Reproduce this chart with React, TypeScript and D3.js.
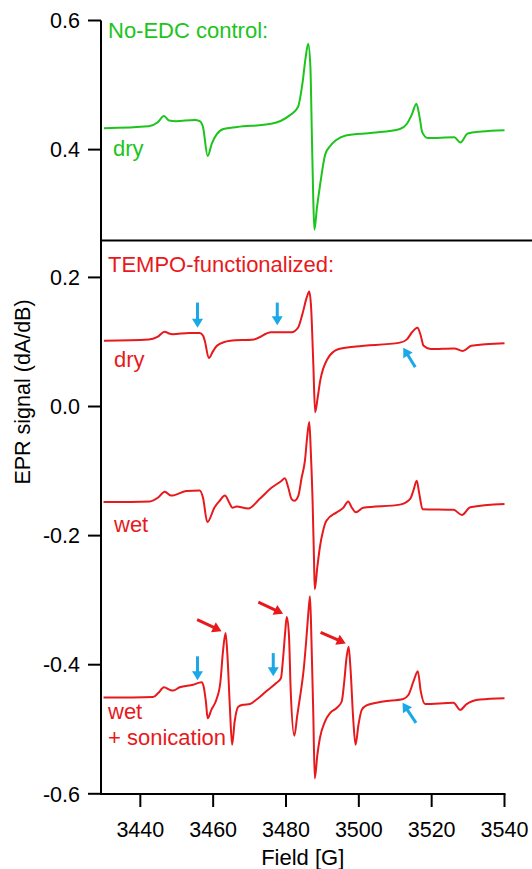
import React from 'react';
import {scaleLinear, line, curveMonotoneX} from 'd3';

// EPR spectra, [field G, signal]
const greenDry = [
  [3430.0,0.433],[3442.3,0.436],[3444.7,0.442],[3446.5,0.452],[3447.9,0.445],[3449.8,0.444],[3454.9,0.446],
  [3456.3,0.444],[3457.2,0.435],[3458.5,0.390],[3459.6,0.409],[3461.0,0.424],[3462.8,0.432],[3466.6,0.435],
  [3475.9,0.440],[3481.0,0.453],[3483.3,0.466],[3484.5,0.502],[3485.4,0.543],[3486.1,0.564],[3486.7,0.528],
  [3487.1,0.424],[3487.5,0.321],[3487.8,0.276],[3488.5,0.310],[3489.4,0.347],[3490.8,0.393],[3492.2,0.406],
  [3493.6,0.414],[3496.4,0.422],[3503.8,0.426],[3511.3,0.432],[3513.2,0.440],[3514.6,0.455],[3515.8,0.471],
  [3516.7,0.450],[3517.4,0.427],[3518.9,0.418],[3526.2,0.419],[3527.9,0.411],[3529.9,0.425],[3533.7,0.428],
  [3540.0,0.430]
];

const redDry = [
  [3430.0,0.102],[3442.3,0.104],[3444.7,0.108],[3446.7,0.116],[3447.9,0.113],[3448.9,0.112],[3453.5,0.114],
  [3456.3,0.114],[3457.2,0.110],[3457.7,0.102],[3458.8,0.075],[3459.9,0.085],[3461.0,0.094],[3464.7,0.102],
  [3471.2,0.104],[3475.9,0.115],[3481.5,0.115],[3483.3,0.122],[3484.5,0.143],[3485.7,0.169],[3486.4,0.178],
  [3486.9,0.153],[3487.5,0.066],[3488.0,-0.009],[3488.7,0.014],[3489.4,0.040],[3491.3,0.073],[3494.5,0.089],
  [3499.2,0.093],[3511.3,0.099],[3513.2,0.104],[3514.6,0.115],[3516.1,0.122],[3516.9,0.112],[3517.8,0.094],
  [3519.7,0.089],[3526.2,0.090],[3528.5,0.086],[3530.9,0.094],[3540.0,0.098]
];

const redWet = [
  [3429.9,-0.148],[3442.6,-0.147],[3444.9,-0.141],[3446.7,-0.132],[3448.5,-0.138],[3452.6,-0.131],[3456.3,-0.130],
  [3457.2,-0.141],[3458.4,-0.179],[3460.4,-0.156],[3461.8,-0.146],[3463.2,-0.138],[3464.6,-0.151],[3465.3,-0.157],
  [3466.4,-0.155],[3469.6,-0.158],[3472.8,-0.143],[3476.0,-0.126],[3478.8,-0.115],[3479.7,-0.111],[3480.6,-0.125],
  [3481.5,-0.143],[3482.3,-0.146],[3483.4,-0.138],[3484.3,-0.110],[3485.2,-0.084],[3485.8,-0.048],[3486.4,-0.024],
  [3486.8,-0.068],[3487.3,-0.146],[3487.7,-0.239],[3487.9,-0.283],[3488.6,-0.249],[3489.3,-0.218],[3490.2,-0.192],
  [3491.1,-0.177],[3493.9,-0.164],[3495.7,-0.157],[3497.1,-0.147],[3498.0,-0.156],[3499.2,-0.164],[3501.2,-0.157],
  [3511.3,-0.152],[3514.1,-0.143],[3515.0,-0.130],[3515.9,-0.115],[3516.6,-0.135],[3517.5,-0.159],[3526.0,-0.160],
  [3528.3,-0.168],[3530.6,-0.156],[3540.0,-0.151]
];

const redSonic = [
  [3429.9,-0.451],[3443.5,-0.450],[3444.9,-0.444],[3446.5,-0.435],[3448.1,-0.439],[3449.0,-0.440],[3450.8,-0.435],
  [3454.5,-0.431],[3456.8,-0.427],[3457.4,-0.434],[3458.0,-0.457],[3458.5,-0.483],[3459.5,-0.470],[3460.9,-0.454],
  [3462.0,-0.426],[3462.7,-0.379],[3463.4,-0.351],[3463.9,-0.384],[3464.6,-0.467],[3465.2,-0.524],[3465.9,-0.488],
  [3466.9,-0.465],[3468.2,-0.462],[3470.1,-0.461],[3471.9,-0.454],[3474.6,-0.441],[3477.4,-0.428],[3478.6,-0.421],
  [3479.2,-0.390],[3479.8,-0.348],[3480.2,-0.326],[3480.8,-0.353],[3481.3,-0.441],[3482.3,-0.510],[3483.1,-0.478],
  [3483.8,-0.452],[3484.9,-0.405],[3485.6,-0.359],[3486.1,-0.322],[3486.6,-0.294],[3487.0,-0.364],[3487.5,-0.478],
  [3487.9,-0.576],[3488.6,-0.540],[3489.3,-0.514],[3490.7,-0.488],[3492.1,-0.475],[3493.9,-0.467],[3495.3,-0.457],
  [3496.0,-0.426],[3496.6,-0.390],[3497.2,-0.372],[3497.7,-0.405],[3498.5,-0.488],[3499.1,-0.524],[3499.9,-0.493],
  [3500.8,-0.470],[3502.1,-0.463],[3506.7,-0.457],[3512.2,-0.453],[3513.6,-0.447],[3515.0,-0.426],[3516.2,-0.410],
  [3517.0,-0.441],[3518.2,-0.461],[3526.0,-0.459],[3527.8,-0.470],[3529.6,-0.461],[3533.3,-0.454],[3540.0,-0.452]
];

// arrows: [tailField, tailSignal, tipField, tipSignal]
const blueArrows = [
  [3455.7,0.161,3455.7,0.122],[3477.6,0.161,3477.6,0.126],[3515.5,0.061,3512.2,0.091],
  [3455.7,-0.387,3455.7,-0.424],[3476.5,-0.382,3476.5,-0.418],[3515.7,-0.490,3512.0,-0.459]
];
const redArrows = [
  [3455.6,-0.330,3462.3,-0.348],[3472.4,-0.303,3479.2,-0.321],[3489.5,-0.350,3496.4,-0.367]
];

const xTicks = [3440,3460,3480,3500,3520,3540];
const topTicks = [0.4,0.6];
const botTicks = [0.2,0.0,-0.2,-0.4,-0.6];

const GREEN = "#1cc41c";
const RED = "#e8191c";
const BLUE = "#1aa9e6";
const FONT = "'Liberation Sans', Arial, sans-serif";

const x = scaleLinear().domain([3429.2,3540]).range([101,504.5]);
const yTop = scaleLinear().domain([0.2592,0.6]).range([240.5,20.5]);
const yBot = scaleLinear().domain([-0.6,0.2572]).range([793.8,240.5]);

const Arrow = ({a,color}:{a:number[],color:string}) => {
  const x1=x(a[0]), y1=yBot(a[1]), x2=x(a[2]), y2=yBot(a[3]);
  const len=Math.hypot(x2-x1,y2-y1);
  const ux=(x2-x1)/len, uy=(y2-y1)/len;
  const h=9, w=5.5;
  const bx=x2-ux*h, by=y2-uy*h;
  const pts=`${x2},${y2} ${bx-uy*w},${by+ux*w} ${bx+uy*w},${by-ux*w}`;
  return (
    <g>
      <line x1={x1} y1={y1} x2={bx+ux*1} y2={by+uy*1} stroke={color} strokeWidth={3}/>
      <polygon points={pts} fill={color}/>
    </g>
  );
};

export default function App(){
  const lineTop = line<number[]>().x(d=>x(d[0])).y(d=>yTop(d[1])).curve(curveMonotoneX);
  const lineBot = line<number[]>().x(d=>x(d[0])).y(d=>yBot(d[1])).curve(curveMonotoneX);
  const axisX = x.range()[0];
  const xAxisY = 794;
  const fmt = (v:number)=>v.toFixed(1);

  return (
    <svg width={532} height={869} style={{position:'absolute',left:0,top:0,background:'#fff'}} fontFamily={FONT}>
      {/* traces */}
      <path d={lineTop(greenDry) as string} fill="none" stroke={GREEN} strokeWidth={2} strokeLinejoin="round"/>
      <path d={lineBot(redDry) as string} fill="none" stroke={RED} strokeWidth={2} strokeLinejoin="round"/>
      <path d={lineBot(redWet) as string} fill="none" stroke={RED} strokeWidth={2} strokeLinejoin="round"/>
      <path d={lineBot(redSonic) as string} fill="none" stroke={RED} strokeWidth={2} strokeLinejoin="round"/>

      {blueArrows.map((a,i)=><Arrow key={'b'+i} a={a} color={BLUE}/>)}
      {redArrows.map((a,i)=><Arrow key={'r'+i} a={a} color={RED}/>)}

      {/* axes */}
      <line x1={axisX} x2={axisX} y1={yTop(0.6)} y2={xAxisY+1} stroke="#000" strokeWidth={2}/>
      <line x1={axisX} x2={532} y1={240.5} y2={240.5} stroke="#000" strokeWidth={2}/>
      <line x1={axisX-1} x2={x(3540)+1} y1={xAxisY} y2={xAxisY} stroke="#000" strokeWidth={2}/>

      {topTicks.map(t=>(
        <g key={'t'+t}>
          <line x1={axisX-13} x2={axisX} y1={yTop(t)} y2={yTop(t)} stroke="#000" strokeWidth={2}/>
          <text x={80} y={yTop(t)} dy="0.36em" textAnchor="end" fontSize={21.5}>{fmt(t)}</text>
        </g>
      ))}
      {botTicks.map(t=>(
        <g key={'b'+t}>
          <line x1={axisX-13} x2={axisX} y1={yBot(t)} y2={yBot(t)} stroke="#000" strokeWidth={2}/>
          <text x={80} y={yBot(t)} dy="0.36em" textAnchor="end" fontSize={21.5}>{fmt(t)}</text>
        </g>
      ))}
      {xTicks.map(t=>(
        <g key={'x'+t}>
          <line x1={x(t)} x2={x(t)} y1={xAxisY} y2={xAxisY+13} stroke="#000" strokeWidth={2}/>
          <text x={x(t)} y={837} textAnchor="middle" fontSize={21.5}>{t}</text>
        </g>
      ))}

      <text x={(x(3429.2)+x(3540))/2} y={865} textAnchor="middle" fontSize={22}>Field [G]</text>
      <text transform="translate(30,392) rotate(-90)" textAnchor="middle" fontSize={21.5}>EPR signal (dA/dB)</text>

      {/* labels */}
      <text x={108} y={38} fontSize={22} fill={GREEN}>No-EDC control:</text>
      <text x={113} y={156} fontSize={22} fill={GREEN}>dry</text>
      <text x={108} y={272} fontSize={22} fill={RED}>TEMPO-functionalized:</text>
      <text x={114} y={367} fontSize={22} fill={RED}>dry</text>
      <text x={114} y={532} fontSize={22} fill={RED}>wet</text>
      <text x={108} y={719} fontSize={22} fill={RED}>wet</text>
      <text x={108} y={745} fontSize={22} fill={RED}>+ sonication</text>
    </svg>
  );
}
